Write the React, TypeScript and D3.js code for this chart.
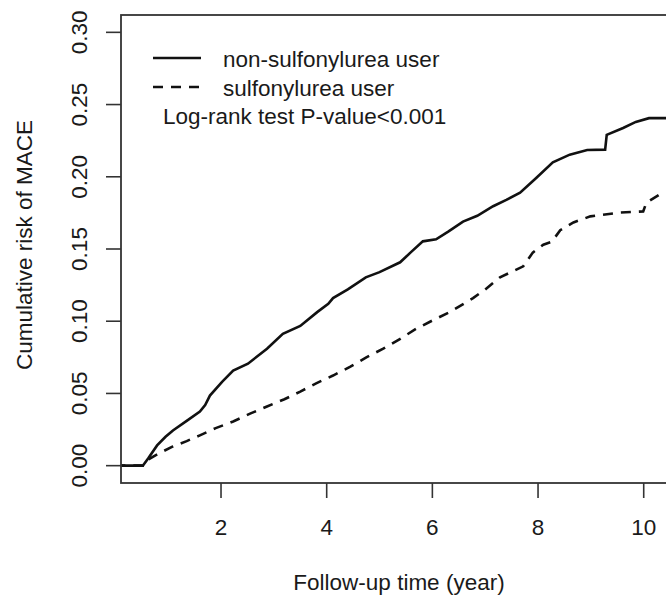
import React from 'react';
import * as d3 from 'd3';

// Kaplan-Meier style cumulative risk curves
const nonSulfonylurea: [number, number][] = [
  [0, 0], [0.52, 0], [0.62, 0.005], [0.79, 0.014], [0.95, 0.02], [1.09, 0.0244],
  [1.35, 0.031], [1.6, 0.0374], [1.7, 0.042], [1.79, 0.0485], [2.02, 0.058],
  [2.23, 0.0658], [2.51, 0.0706], [2.87, 0.081], [3.17, 0.0913], [3.5, 0.0967],
  [3.82, 0.1063], [4.03, 0.112], [4.12, 0.116], [4.4, 0.122], [4.74, 0.1304],
  [5.0, 0.134], [5.39, 0.1408], [5.6, 0.148], [5.82, 0.1553], [6.07, 0.1567],
  [6.3, 0.162], [6.58, 0.169], [6.85, 0.173], [7.15, 0.1796], [7.4, 0.184],
  [7.66, 0.189], [7.96, 0.199], [8.28, 0.21], [8.6, 0.2153], [8.93, 0.2185],
  [9.27, 0.2188], [9.3, 0.229], [9.61, 0.2338], [9.85, 0.238], [10.1, 0.2406],
  [10.6, 0.2406],
];

const sulfonylurea: [number, number][] = [
  [0, 0], [0.52, 0], [0.6, 0.0037], [0.85, 0.009], [1.09, 0.0133], [1.35, 0.017],
  [1.6, 0.021], [1.9, 0.026], [2.23, 0.0306], [2.55, 0.036], [2.87, 0.041],
  [3.2, 0.046], [3.5, 0.0513], [3.8, 0.057], [4.12, 0.0624], [4.44, 0.0684],
  [4.75, 0.075], [5.07, 0.081], [5.4, 0.088], [5.69, 0.0947], [6.0, 0.1005],
  [6.33, 0.1063], [6.77, 0.116], [7.0, 0.122], [7.28, 0.1304], [7.72, 0.138],
  [7.9, 0.1475], [8.1, 0.153], [8.26, 0.155], [8.42, 0.163], [8.67, 0.1684],
  [8.99, 0.1726], [9.55, 0.1752], [9.99, 0.176], [10.05, 0.182], [10.3, 0.1877],
  [10.6, 0.19],
];

const xTicks = [2, 4, 6, 8, 10];
const yTicks = [0, 0.05, 0.1, 0.15, 0.2, 0.25, 0.3];
const legendLabels = ['non-sulfonylurea user', 'sulfonylurea user'];
const pValueText = 'Log-rank test P-value<0.001';

const W = 666;
const H = 598;
const margin = { top: 15, right: -11, bottom: 115, left: 121 };
const font = '"Liberation Sans", Arial, sans-serif';

export default function App() {
  const innerW = W - margin.left - margin.right;
  const innerH = H - margin.top - margin.bottom;

  // R-style 4% padding around xlim / ylim
  const x = d3.scaleLinear().domain([0.107, 10.63]).range([0, innerW]);
  const y = d3.scaleLinear().domain([-0.012, 0.312]).range([innerH, 0]);

  const line = d3
    .line<[number, number]>()
    .x((d) => x(d[0]))
    .y((d) => y(d[1]))
    .curve(d3.curveLinear);

  return (
    <svg
      width={W}
      height={H}
      style={{ position: 'absolute', left: 0, top: 0, background: '#fff' }}
      fontFamily={font}
    >
      <defs>
        <clipPath id="plot-area">
          <rect width={innerW} height={innerH} />
        </clipPath>
      </defs>
      <g transform={`translate(${margin.left},${margin.top})`}>
        {/* curves */}
        <g clipPath="url(#plot-area)">
          <path d={line(nonSulfonylurea) ?? ''} fill="none" stroke="#111" strokeWidth={2.6} />
          <path
            d={line(sulfonylurea) ?? ''}
            fill="none"
            stroke="#111"
            strokeWidth={2.6}
            strokeDasharray="10,8"
          />
        </g>

        {/* box */}
        <rect width={innerW} height={innerH} fill="none" stroke="#333" strokeWidth={1.8} />

        {/* y axis */}
        {yTicks.map((t) => (
          <g key={t} transform={`translate(0,${y(t)})`}>
            <line x1={-15} x2={0} stroke="#333" strokeWidth={1.6} />
            <text
              transform={`translate(-34,0) rotate(-90)`}
              textAnchor="middle"
              fontSize={22.5}
              fill="#1a1a1a"
            >
              {t.toFixed(2)}
            </text>
          </g>
        ))}

        {/* x axis */}
        {xTicks.map((t) => (
          <g key={t} transform={`translate(${x(t)},${innerH})`}>
            <line y2={15} stroke="#333" strokeWidth={1.6} />
            <text y={52} textAnchor="middle" fontSize={22.5} fill="#1a1a1a">
              {t}
            </text>
          </g>
        ))}

        {/* axis titles */}
        <text
          x={innerW / 2}
          y={innerH + 107}
          textAnchor="middle"
          fontSize={22.5}
          fill="#1a1a1a"
        >
          Follow-up time (year)
        </text>
        <text
          transform={`translate(${-margin.left + 32},${innerH / 2 - 4}) rotate(-90)`}
          textAnchor="middle"
          fontSize={22.5}
          fill="#1a1a1a"
        >
          Cumulative risk of MACE
        </text>

        {/* legend */}
        <g transform="translate(32,43)">
          {legendLabels.map((label, i) => (
            <g key={label} transform={`translate(0,${i * 29})`}>
              <line
                x1={0}
                x2={48}
                stroke="#111"
                strokeWidth={2.6}
                strokeDasharray={i === 1 ? '10,8' : undefined}
              />
              <text x={70} y={9} fontSize={22.5} fill="#1a1a1a">
                {label}
              </text>
            </g>
          ))}
          <text x={10} y={66} fontSize={22.5} fill="#1a1a1a">
            {pValueText}
          </text>
        </g>
      </g>
    </svg>
  );
}
